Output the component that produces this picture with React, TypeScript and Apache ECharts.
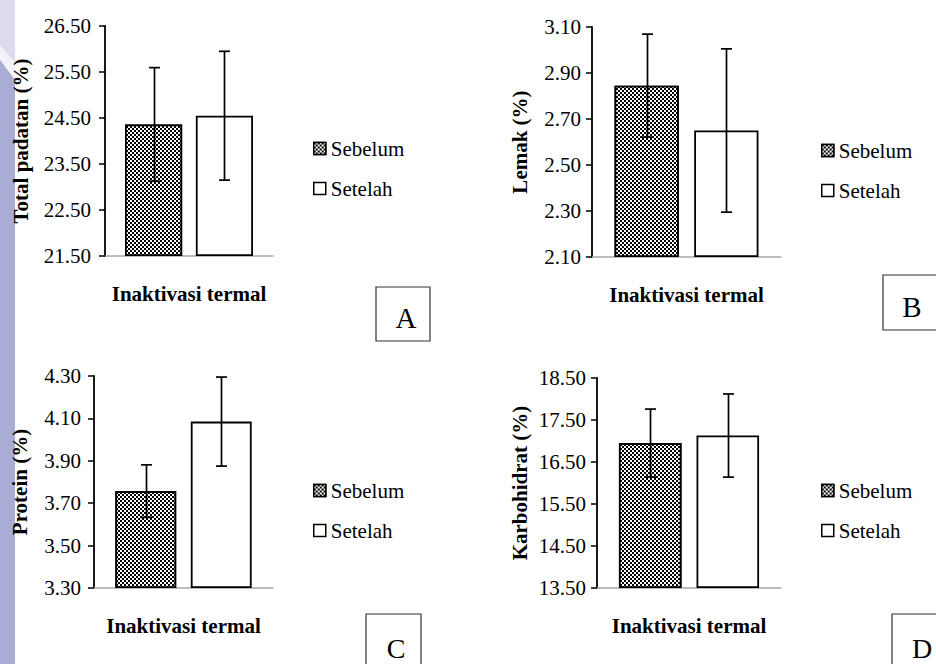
import React, { useEffect, useRef } from 'react';
import * as echarts from 'echarts';

// ---------- data ----------
const categories = ['Inaktivasi termal'];
const seriesNames = ['Sebelum', 'Setelah'];
const panelLetters = ['A', 'B', 'C', 'D'];
const yAxisTitles = ['Total padatan (%)', 'Lemak (%)', 'Protein (%)', 'Karbohidrat (%)'];
const yMin = [21.5, 2.1, 3.3, 13.5];
const yMax = [26.5, 3.1, 4.3, 18.5];
const yStep = [1, 0.2, 0.2, 1];
const sebelumMean = [24.36, 2.845, 3.757, 16.95];
const sebelumSD = [1.235, 0.224, 0.124, 0.81];
const setelahMean = [24.55, 2.65, 4.085, 17.13];
const setelahSD = [1.4, 0.355, 0.21, 0.99];

// ---------- layout / style ----------
const FONT = "'Liberation Serif', 'Times New Roman', serif";
const BAR_W = 0.34;
const BAR_GAP = 0.24;
const grids = [
  { left: 105, top: 26, width: 168, height: 230 },
  { left: 592, top: 27, width: 189, height: 230 },
  { left: 94, top: 376, width: 179, height: 212 },
  { left: 597, top: 378, width: 184, height: 210 },
];
const nameGaps = [74, 62, 64, 67];
const labelMargins = [14, 11, 13, 11];
const legendPos = [
  { left: 313, top: 138 },
  { left: 821, top: 140 },
  { left: 313, top: 480 },
  { left: 821, top: 480 },
];
const boxes = [
  { x: 376, y: 287, w: 54, h: 54, tx: 406, ty: 318, fs: 29 },
  { x: 883, y: 275, w: 54, h: 55, tx: 912, ty: 307, fs: 29 },
  { x: 366, y: 614, w: 55, h: 60, tx: 396, ty: 648, fs: 28 },
  { x: 892, y: 614, w: 55, h: 60, tx: 922, ty: 648, fs: 28 },
];

const patternDecal = {
  symbol: 'rect',
  symbolSize: 1,
  color: '#ffffff',
  dashArrayX: [[2, 2], [0, 2, 2, 0]],
  dashArrayY: [2, 0],
  rotation: 0,
};

export default function App() {
  const ref = useRef<HTMLDivElement>(null);

  useEffect(() => {
    if (!ref.current) return;
    const chart = echarts.init(ref.current, null, { renderer: 'svg' });

    const series: any[] = [];
    for (let i = 0; i < 4; i++) {
      const base = yMin[i];
      series.push({
        type: 'bar',
        name: seriesNames[0],
        xAxisIndex: i,
        yAxisIndex: i,
        barWidth: `${BAR_W * 100}%`,
        barGap: `${BAR_GAP * 100}%`,
        itemStyle: { color: '#000', borderColor: '#000', borderWidth: 1.8, decal: patternDecal },
        data: [sebelumMean[i] - base],
      });
      series.push({
        type: 'bar',
        name: seriesNames[1],
        xAxisIndex: i,
        yAxisIndex: i,
        barWidth: `${BAR_W * 100}%`,
        barGap: `${BAR_GAP * 100}%`,
        itemStyle: { color: '#fff', borderColor: '#000', borderWidth: 1.8 },
        data: [setelahMean[i] - base],
      });
      series.push({
        type: 'custom',
        xAxisIndex: i,
        yAxisIndex: i,
        z: 5,
        data: [
          [0, sebelumMean[i] - sebelumSD[i] - base, sebelumMean[i] + sebelumSD[i] - base, -1],
          [0, setelahMean[i] - setelahSD[i] - base, setelahMean[i] + setelahSD[i] - base, 1],
        ],
        renderItem: (params: any, api: any) => {
          const cat = api.value(0);
          const lo = api.value(1);
          const hi = api.value(2);
          const side = api.value(3);
          const band = api.size([1, 0])[0];
          const bw = band * BAR_W;
          const off = (side * bw * (1 + BAR_GAP)) / 2;
          const pLo = api.coord([cat, lo]);
          const pHi = api.coord([cat, hi]);
          const x = Math.round(pLo[0] + off) + 0.5;
          const cap = 5.5;
          const st = { stroke: '#000', lineWidth: 1.7 };
          return {
            type: 'group',
            children: [
              { type: 'line', shape: { x1: x, y1: pHi[1], x2: x, y2: pLo[1] }, style: st },
              { type: 'line', shape: { x1: x - cap, y1: pHi[1], x2: x + cap, y2: pHi[1] }, style: st },
              { type: 'line', shape: { x1: x - cap, y1: pLo[1], x2: x + cap, y2: pLo[1] }, style: st },
            ],
          };
        },
      });
    }

    const graphic: any[] = [
      { type: 'rect', z: -10, shape: { x: 0, y: 0, width: 15, height: 80 }, style: { fill: '#dcdbee' } },
      { type: 'polygon', z: -9, shape: { points: [[0, 45], [15, 62], [15, 80], [0, 60]] }, style: { fill: '#f2f2f9' } },
      { type: 'polygon', z: -9, shape: { points: [[0, 60], [15, 80], [15, 664], [0, 664]] }, style: { fill: '#a9acd5' } },
    ];
    boxes.forEach((b, i) => {
      graphic.push({
        type: 'rect',
        shape: { x: b.x, y: b.y, width: b.w, height: b.h },
        style: { fill: 'none', stroke: '#333', lineWidth: 1.2 },
      });
      graphic.push({
        type: 'text',
        x: b.tx,
        y: b.ty,
        style: {
          text: panelLetters[i],
          fontFamily: FONT,
          fontSize: b.fs,
          fill: '#000',
          align: 'center',
          verticalAlign: 'middle',
        },
      });
    });

    chart.setOption({
      animation: false,
      backgroundColor: '#fff',
      grid: grids.map((g) => ({ ...g, containLabel: false })),
      xAxis: grids.map((_, i) => ({
        type: 'category',
        gridIndex: i,
        data: categories,
        axisLine: { show: true, lineStyle: { color: '#a6a6a6', width: 1.5 } },
        axisTick: { show: false },
        axisLabel: { fontFamily: FONT, fontSize: 21, fontWeight: 'bold', color: '#000', margin: 27, interval: 0 },
        splitLine: { show: false },
      })),
      yAxis: grids.map((_, i) => ({
        type: 'value',
        gridIndex: i,
        min: 0,
        max: +(yMax[i] - yMin[i]).toFixed(6),
        interval: yStep[i],
        name: yAxisTitles[i],
        nameLocation: 'middle',
        nameGap: nameGaps[i],
        nameRotate: 90,
        nameTextStyle: { fontFamily: FONT, fontSize: 21, fontWeight: 'bold', color: '#000' },
        axisLine: { show: true, lineStyle: { color: '#000', width: 1.8 } },
        axisTick: { show: true, inside: false, length: 6, lineStyle: { color: '#000', width: 1.5 } },
        axisLabel: {
          fontFamily: FONT,
          fontSize: 21,
          color: '#000',
          margin: labelMargins[i],
          formatter: (v: number) => (v + yMin[i]).toFixed(2),
        },
        splitLine: { show: false },
      })),
      legend: legendPos.map((p) => ({
        data: seriesNames,
        orient: 'vertical',
        left: p.left,
        top: p.top,
        padding: 0,
        itemWidth: 12,
        itemHeight: 12,
        itemGap: 19,
        icon: 'rect',
        selectedMode: false,
        itemStyle: { borderColor: '#000', borderWidth: 1.5 },
        textStyle: { fontFamily: FONT, fontSize: 21, color: '#000' },
      })),
      graphic,
      series,
    });

    return () => chart.dispose();
  }, []);

  return (
    <div
      ref={ref}
      style={{ position: 'fixed', left: 0, top: 0, width: 936, height: 664, background: '#fff' }}
    />
  );
}
